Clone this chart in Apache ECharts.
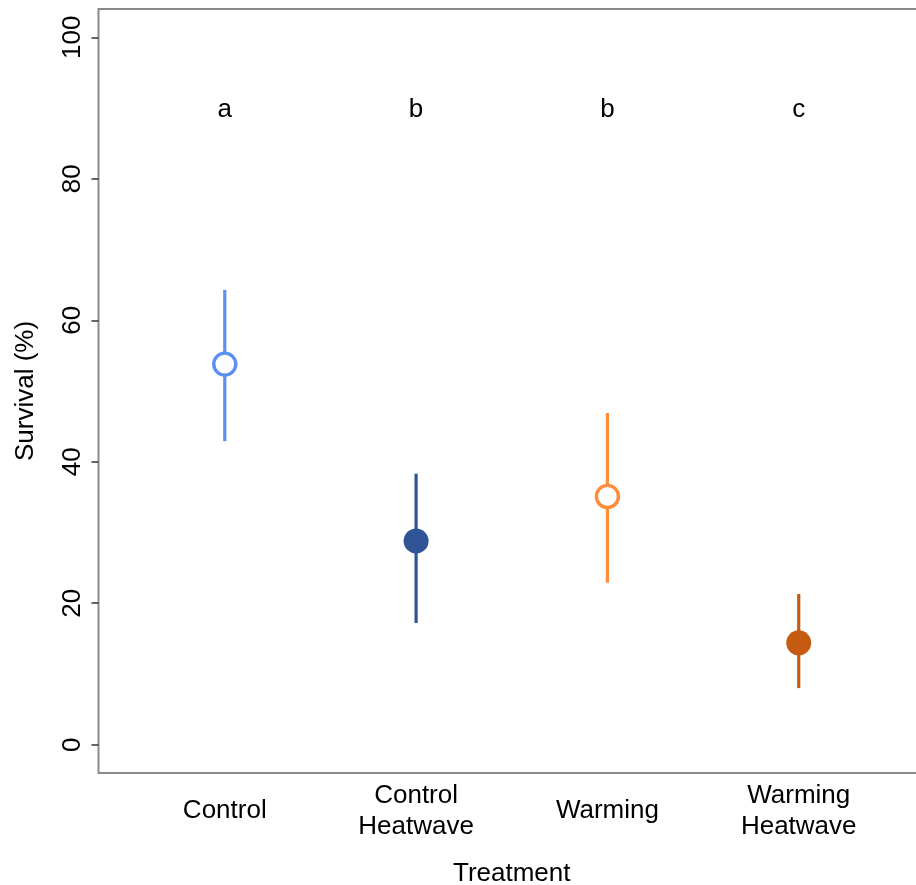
<!DOCTYPE html>
<html>
<head>
<meta charset="utf-8">
<script src="https://cdn.jsdelivr.net/npm/echarts@6/dist/echarts.min.js"></script>
<style>
html,body{margin:0;padding:0;background:#fff;}
#chart{width:916px;height:885px;}
</style>
</head>
<body>
<div id="chart"></div>
<script>
// Data
const categories = ['Control', 'Control\nHeatwave', 'Warming', 'Warming\nHeatwave'];
const means = [53.8, 28.8, 35.1, 14.4];
const lower = [42.9, 17.2, 22.9, 8.0];
const upper = [64.3, 38.3, 46.9, 21.3];
const letters = ['a', 'b', 'b', 'c'];
const letterLevel = 89.7;
const yTicks = [0, 20, 40, 60, 80, 100];
const xPositions = [1, 2, 3, 4];

// Styles
const colors = ['#5B8FF3', '#2F5496', '#FF8C3A', '#C55A11'];
const filled = [false, true, false, true];

const FONT = '"Liberation Sans", Arial, Helvetica, sans-serif';

const chart = echarts.init(document.getElementById('chart'), null, {renderer: 'canvas'});

const option = {
  backgroundColor: '#ffffff',
  animation: false,
  grid: {
    left: 98.5, top: 9, width: 826.5, height: 764,
    outerBoundsMode: 'none', containLabel: false,
    show: true, borderColor: '#8a8a8a', borderWidth: 2, backgroundColor: 'transparent'
  },
  xAxis: {
    type: 'value', min: 0.34, max: 4.66,
    splitLine: {show: false},
    axisLine: {show: false},
    axisTick: {show: false},
    axisLabel: {
      customValues: xPositions,
      formatter: v => categories[Math.round(v) - 1] || '',
      fontSize: 26, fontFamily: FONT, color: '#000',
      lineHeight: 31, verticalAlign: 'middle', align: 'center', margin: 38
    },
    name: 'Treatment', nameLocation: 'middle', nameGap: 88,
    nameTextStyle: {fontSize: 26, fontFamily: FONT, color: '#000'}
  },
  yAxis: {
    type: 'value', min: -4, max: 104,
    splitLine: {show: false},
    axisLine: {show: false},
    axisTick: {show: true, customValues: yTicks, length: 7, lineStyle: {color: '#333', width: 1.5}},
    axisLabel: {
      customValues: yTicks, rotate: 90, margin: 13,
      fontSize: 26, fontFamily: FONT, color: '#000'
    },
    name: 'Survival (%)', nameLocation: 'middle', nameGap: 60, nameRotate: 90,
    nameTextStyle: {fontSize: 26, fontFamily: FONT, color: '#000'}
  },
  series: [
    {
      type: 'custom',
      data: categories.map((c, i) => [xPositions[i], lower[i], upper[i]]),
      encode: {x: 0, y: [1, 2]},
      z: 2,
      renderItem: (params, api) => {
        const p1 = api.coord([api.value(0), api.value(1)]);
        const p2 = api.coord([api.value(0), api.value(2)]);
        return {
          type: 'line',
          shape: {x1: p1[0], y1: p1[1], x2: p2[0], y2: p2[1]},
          style: {stroke: colors[params.dataIndex], lineWidth: 3.2}
        };
      }
    },
    {
      type: 'scatter',
      z: 3,
      itemStyle: {opacity: 1},
      data: means.map((m, i) => ({
        value: [xPositions[i], m],
        symbol: 'circle',
        symbolSize: filled[i] ? 25 : 22,
        itemStyle: filled[i]
          ? {color: colors[i], borderWidth: 0, opacity: 1}
          : {color: '#ffffff', borderColor: colors[i], borderWidth: 3.4, opacity: 1}
      }))
    },
    {
      type: 'scatter',
      z: 4,
      symbolSize: 0,
      itemStyle: {opacity: 1},
      data: letters.map((l, i) => [xPositions[i], letterLevel]),
      label: {
        show: true, position: 'inside',
        formatter: p => letters[p.dataIndex],
        fontSize: 26, fontFamily: FONT, color: '#000', opacity: 1
      }
    }
  ]
};
chart.setOption(option);
</script>
</body>
</html>
